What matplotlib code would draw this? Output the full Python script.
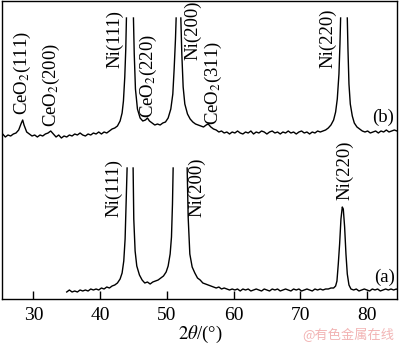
import numpy as np
import matplotlib
matplotlib.use('Agg')
import matplotlib.pyplot as plt

plt.rcParams['font.family'] = ['Liberation Serif', 'DejaVu Serif']
plt.rcParams['mathtext.fontset'] = 'stix'

nan = np.nan

# pattern (b): CeO2 + Ni, peak tops cut off in the original
tt_b = [25.0, 25.4, 25.8, 26.2, 26.6, 27.0, 27.4, 27.8, 28.2, 28.4, 28.6, 29.0, 29.4, 29.8,
        30.2, 30.6, 31.0, 31.4, 31.8, 32.2, 32.6, 33.0, 33.4, 33.8, 34.2, 34.6, 35.0, 35.4,
        35.8, 36.2, 36.6, 37.0, 37.4, 37.8, 38.2, 38.6, 39.0, 39.4, 39.8, 40.2, 40.6, 41.0,
        41.4, 41.8, 42.2, 42.6, 43.0, 43.3, 43.5, 43.7, 43.85, 43.95, nan,
        45.0, 45.12, 45.3, 45.6, 46.0, 46.4, 46.8, 47.1, 47.4, 47.8, 48.2, 48.6, 49.0, 49.4,
        49.8, 50.2, 50.6, 50.9, 51.1, 51.3, 51.4, nan,
        52.1, 52.25, 52.45, 52.7, 53.1, 53.5, 53.9, 54.3, 54.7, 55.1, 55.5, 55.9, 56.2, 56.6,
        57.0, 57.4, 57.8, 58.2, 58.6, 59.0, 59.4, 59.8, 60.2, 60.6, 61.0, 61.4, 61.8, 62.2,
        62.6, 63.0, 63.4, 63.8, 64.2, 64.6, 65.0, 65.4, 65.8, 66.2, 66.6, 67.0, 67.4, 67.8,
        68.2, 68.6, 69.0, 69.4, 69.8, 70.2, 70.6, 71.0, 71.4, 71.8, 72.2, 72.6, 73.0, 73.4,
        73.8, 74.2, 74.6, 75.0, 75.3, 75.55, 75.8, 75.95, 76.05, nan,
        77.05, 77.15, 77.3, 77.5, 77.8, 78.1, 78.5, 78.9, 79.3, 79.7, 80.1, 80.5, 80.9, 81.3,
        81.7, 82.1, 82.5, 82.9, 83.3, 83.7, 84.1, 84.5, 84.7]
int_b = [163, 165, 162, 164, 163, 165, 166, 169, 176, 179, 174, 167, 165, 163,
         164, 162, 164, 163, 165, 166, 168, 165, 162, 164, 161, 163, 162, 164,
         163, 165, 164, 166, 164, 163, 165, 164, 166, 165, 167, 165, 167, 166,
         168, 170, 171, 173, 178, 186, 198, 222, 250, 281, nan,
         281, 245, 210, 190, 181, 178, 179, 181, 178, 176, 174, 175, 174, 176,
         177, 181, 190, 205, 230, 260, 281, nan,
         281, 245, 212, 195, 185, 180, 177, 175, 174, 173, 172, 174, 175, 172,
         170, 169, 167, 168, 166, 167, 165, 167, 166, 168, 166, 165, 167, 166,
         168, 165, 167, 166, 168, 167, 165, 167, 168, 166, 167, 165, 167, 166,
         168, 166, 167, 165, 167, 168, 166, 167, 165, 167, 166, 168, 167, 168,
         169, 171, 174, 179, 187, 200, 225, 255, 281, nan,
         281, 250, 215, 195, 183, 176, 172, 170, 168, 167, 168, 166, 167, 168,
         166, 168, 167, 169, 167, 168, 169, 168, 167]

# pattern (a): Ni only
tt_a = [35.0, 35.4, 35.8, 36.2, 36.6, 37.0, 37.4, 37.8, 38.2, 38.6, 39.0, 39.4, 39.8, 40.2,
        40.6, 41.0, 41.4, 41.8, 42.2, 42.6, 43.0, 43.3, 43.55, 43.75, 43.9, 44.05, nan,
        44.95, 45.05, 45.25, 45.5, 45.9, 46.3, 46.7, 47.1, 47.5, 47.9, 48.3, 48.7, 49.1, 49.5,
        49.9, 50.2, 50.5, 50.7, 50.85, 50.95, nan,
        53.05, 53.2, 53.45, 53.8, 54.2, 54.6, 55.0, 55.4, 55.8, 56.2, 56.6, 57.0, 57.4, 57.8,
        58.2, 58.6, 59.0, 59.4, 59.8, 60.2, 60.6, 61.0, 61.4, 61.8, 62.2, 62.6, 63.0, 63.4,
        63.8, 64.2, 64.6, 65.0, 65.4, 65.8, 66.2, 66.6, 67.0, 67.4, 67.8, 68.2, 68.6, 69.0,
        69.4, 69.8, 70.2, 70.6, 71.0, 71.4, 71.8, 72.2, 72.6, 73.0, 73.4, 73.8, 74.2, 74.6,
        75.0, 75.3, 75.5, 75.7, 75.9, 76.1, 76.3, 76.45, 76.65, 76.85, 77.05, 77.3, 77.6, 78.0,
        78.4, 78.8, 79.2, 79.6, 80.0, 80.4, 80.8, 81.2, 81.6, 82.0, 82.4, 82.8, 83.2, 83.6,
        84.0, 84.4, 84.7]
int_a = [7, 9, 7, 8, 7, 9, 8, 9, 8, 10, 9, 10, 9, 11,
         10, 12, 11, 13, 14, 16, 20, 26, 38, 60, 95, 131, nan,
         131, 80, 48, 33, 24, 19, 16, 17, 15, 17, 18, 19, 21, 23,
         27, 33, 45, 62, 95, 131, nan,
         131, 82, 45, 32, 26, 21, 19, 16, 15, 14, 13, 12, 11, 12,
         10, 11, 10, 9, 10, 9, 10, 8, 10, 9, 10, 8, 9, 10,
         9, 8, 10, 9, 8, 10, 9, 10, 8, 9, 10, 9, 8, 10,
         9, 10, 8, 9, 10, 9, 8, 10, 9, 10, 9, 10, 10, 11,
         11, 13, 18, 35, 55, 80, 92, 90, 72, 45, 25, 14, 10, 9,
         10, 8, 9, 10, 9, 8, 10, 9, 10, 8, 9, 10, 9, 10,
         9, 10, 9]

# peak labels: (text, 2theta, bottom of label)
labels_b = ['CeO$_2$(111)', 'CeO$_2$(200)', 'Ni(111)', 'CeO$_2$(220)', 'Ni(200)',
            'CeO$_2$(311)', 'Ni(220)']
pos_b = [28.3, 32.65, 42.25, 47.2, 53.95, 56.95, 74.2]
base_b = [184, 172, 231, 181, 239, 174, 231]

labels_a = ['Ni(111)', 'Ni(200)', 'Ni(220)']
pos_a = [42.0, 54.5, 76.7]
base_a = [82, 82, 99]

xticks = [30, 40, 50, 60, 70, 80]

fig = plt.figure(figsize=(4.0, 3.47), dpi=100)
ax = fig.add_axes([2 / 400, 48 / 347, 395 / 400, 298 / 347])

ax.plot(tt_b, int_b, color='black', lw=1.0)
ax.plot(tt_a, int_a, color='black', lw=1.0)

for txt, x, y in zip(labels_b, pos_b, base_b):
    ax.text(x, y, txt, rotation=90, ha='center', va='bottom', fontsize=13.5)
for txt, x, y in zip(labels_a, pos_a, base_a):
    ax.text(x, y, txt, rotation=90, ha='center', va='bottom', fontsize=13.5)

ax.text(82.4, 182, '(b)', ha='center', va='center', fontsize=13.5)
ax.text(82.7, 22, '(a)', ha='center', va='center', fontsize=13.5)

ax.set_xlim(25.3, 84.5)
ax.set_ylim(0, 298)
ax.set_xticks(xticks)
ax.set_yticks([])
ax.tick_params(axis='x', direction='in', length=6, width=1, labelsize=14, pad=6)
for sp in ax.spines.values():
    sp.set_linewidth(1.0)

fig.text(0.5, 0.035, r'$\mathit{2\theta}$/(°)', ha='center', va='center', fontsize=13.5)
fig.text(0.985, 0.035, '@有色金属在线', ha='right', va='center', fontsize=9.5,
         color='#f2b4b4', family=['Noto Sans CJK SC', 'DejaVu Sans'])

fig.savefig('out.png', dpi=100)
